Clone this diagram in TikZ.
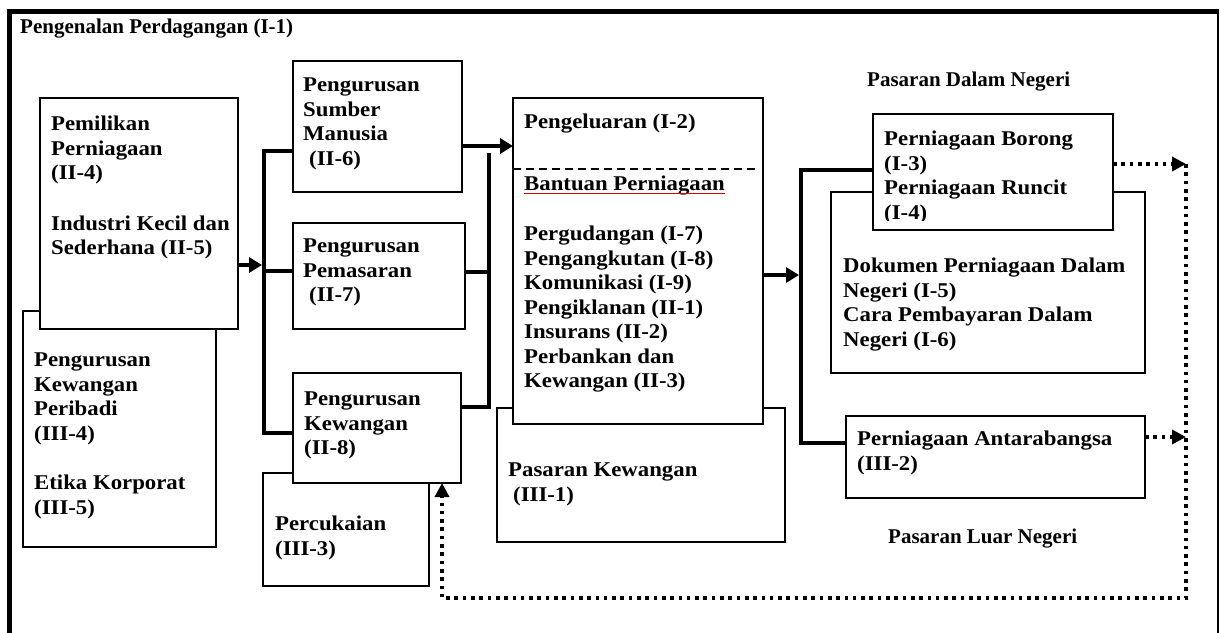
\documentclass[tikz,border=0pt]{standalone}
\usepackage{fontspec}
\setmainfont{Liberation Serif}
\newfontfamily\boxfont[FakeStretch=1.085]{Liberation Serif}
\usetikzlibrary{arrows.meta}
\tikzstyle{Box} = [
draw, line width=1.6pt, fill=white,
anchor=north west, inner sep=0pt, outer sep=0pt
]
\tikzstyle{Txt} = [
anchor=north west, inner sep=0pt, align=left,
font=\boxfont\bfseries\fontsize{21}{24.5}\selectfont
]
\tikzstyle{Head} = [
anchor=base west, inner sep=0pt,
font=\bfseries\fontsize{21}{24}\selectfont
]
\tikzstyle{Link} = [line width=3.5pt]
\tikzstyle{Arrow} = [line width=3.5pt, -{Triangle[length=13pt,width=15pt]}]
\tikzstyle{Dots} = [
line width=3.6pt, dash pattern=on 3.6pt off 4.7pt,
-{Triangle[length=14pt,width=14pt]}
]
\tikzstyle{Spell} = [line width=1.3pt, red!80!black]

\begin{document}
\begin{tikzpicture}[x=1pt, y=-1pt]
   \useasboundingbox (0,0) rectangle (1220,632);
   % frame
   \draw[line width=5pt] (9.5,640) -- (9.5,11.5) -- (1219,11.5);
   \draw[line width=2.7pt] (1218,11.5) -- (1218,640);
   \node[Head] (title) at (20,33) {Pengenalan Perdagangan (I-1)};

   % boxes, back ones first
   \node[Box, minimum width=193, minimum height=236] (kewperi) at (23,311) {};
   \node[Box, minimum width=198, minimum height=231] (milik) at (40,98) {};
   \node[Box, minimum width=169, minimum height=131] (sdm) at (293,61) {};
   \node[Box, minimum width=172, minimum height=106] (pms) at (293,223) {};
   \node[Box, minimum width=166, minimum height=113] (cukai) at (263,473) {};
   \node[Box, minimum width=168, minimum height=110] (kew) at (293,373) {};
   \node[Box, minimum width=288, minimum height=134] (pkew) at (497,408) {};
   \node[Box, minimum width=250, minimum height=326] (keluar) at (513,98) {};
   \node[Box, minimum width=314, minimum height=181] (dok) at (831,192) {};
   \node[Box, minimum width=240, minimum height=116] (borong) at (873,114) {};
   \node[Box, minimum width=299, minimum height=82] (antara) at (846,416) {};

   % texts
   \node[Txt] (milik-t) at (51,116) {Pemilikan\\Perniagaan\\(II-4)\\[26pt]Industri Kecil dan\\Sederhana (II-5)};
   \node[Txt] (kewperi-t) at (34,353) {Pengurusan\\Kewangan\\Peribadi\\(III-4)\\[25pt]Etika Korporat\\(III-5)};
   \node[Txt] (sdm-t) at (303,78) {Pengurusan\\Sumber\\Manusia\\\hspace*{6pt}(II-6)};
   \node[Txt] (pms-t) at (303,239) {Pengurusan\\Pemasaran\\\hspace*{6pt}(II-7)};
   \node[Txt] (kew-t) at (304,392) {Pengurusan\\Kewangan\\(II-8)};
   \node[Txt] (cukai-t) at (275,516) {Percukaian\\(III-3)};
   \node[Txt] (keluar-t) at (524,114) {Pengeluaran (I-2)};
   \draw[line width=1.5pt, dash pattern=on 8pt off 5pt] (513,169) -- (755,169);
   \node[Txt] (bantuan) at (524,176) {Bantuan Perniagaan};
   \draw[Spell] ([yshift=-3pt]bantuan.base west) -- ([yshift=-3pt]bantuan.base east);
   \node[Txt] (bantu-t) at (524,226) {Pergudangan (I-7)\\Pengangkutan (I-8)\\Komunikasi (I-9)\\Pengiklanan (II-1)\\Insurans (II-2)\\Perbankan dan\\Kewangan (II-3)};
   \node[Txt] (pkew-t) at (508,463) {Pasaran Kewangan\\\hspace*{5pt}(III-1)};
   \begin{scope}
      \clip (873,114) rectangle (1113,220);
      \node[Txt] (borong-t) at (884,131) {Perniagaan Borong\\(I-3)\\Perniagaan Runcit\\(I-4)};
   \end{scope}
   \node[Txt] (dok-t) at (843,258) {Dokumen Perniagaan Dalam\\Negeri (I-5)\\Cara Pembayaran Dalam\\Negeri (I-6)};
   \node[Txt] (antara-t) at (857,431) {Perniagaan Antarabangsa\\(III-2)};
   \node[Head] (dalam) at (867,86) {Pasaran Dalam Negeri};
   \node[Head] (luar) at (888,543) {Pasaran Luar Negeri};

   % bus points
   \coordinate (b1a) at (264,151);
   \coordinate (b1m) at (264,271);
   \coordinate (b1b) at (264,433);
   \coordinate (b1in) at (262,265);
   \coordinate (b2a) at (489,153);
   \coordinate (b2m) at (489,272);
   \coordinate (b2b) at (489,407);
   \coordinate (c2g) at (462,146);
   \coordinate (b3a) at (801,170);
   \coordinate (b3b) at (801,443);
   \coordinate (b3in) at (799,275);
   \coordinate (d1) at (1186,164);
   \coordinate (d1b) at (1186,437);
   \coordinate (d2) at (1186,598);
   \coordinate (d3) at (442,598);

   \draw[Arrow] (milik.east |- b1in) -- (b1in);
   \draw[Link] (sdm.west |- b1a) -- (b1a) -- (b1b) -- (kew.west |- b1b);
   \draw[Link] (b1m) -- (pms.west |- b1m);
   \draw[Link] (kew.east |- b2b) -- (b2b) -- (b2a);
   \draw[Link] (pms.east |- b2m) -- (b2m);
   \draw[Arrow] (c2g) -- (c2g -| keluar.west);
   \draw[Arrow] (keluar.east |- b3in) -- (b3in);
   \draw[Link] (borong.west |- b3a) -- (b3a) -- (b3b) -- (antara.west |- b3b);
   \draw[Dots] (borong.east |- d1) -- (d1);
   \draw[Dots] (antara.east |- d1b) -- (d1b);
   \draw[Dots] (d1) -- (d2) -- (d3) -- (kew.south -| d3);
\end{tikzpicture}
\end{document}
